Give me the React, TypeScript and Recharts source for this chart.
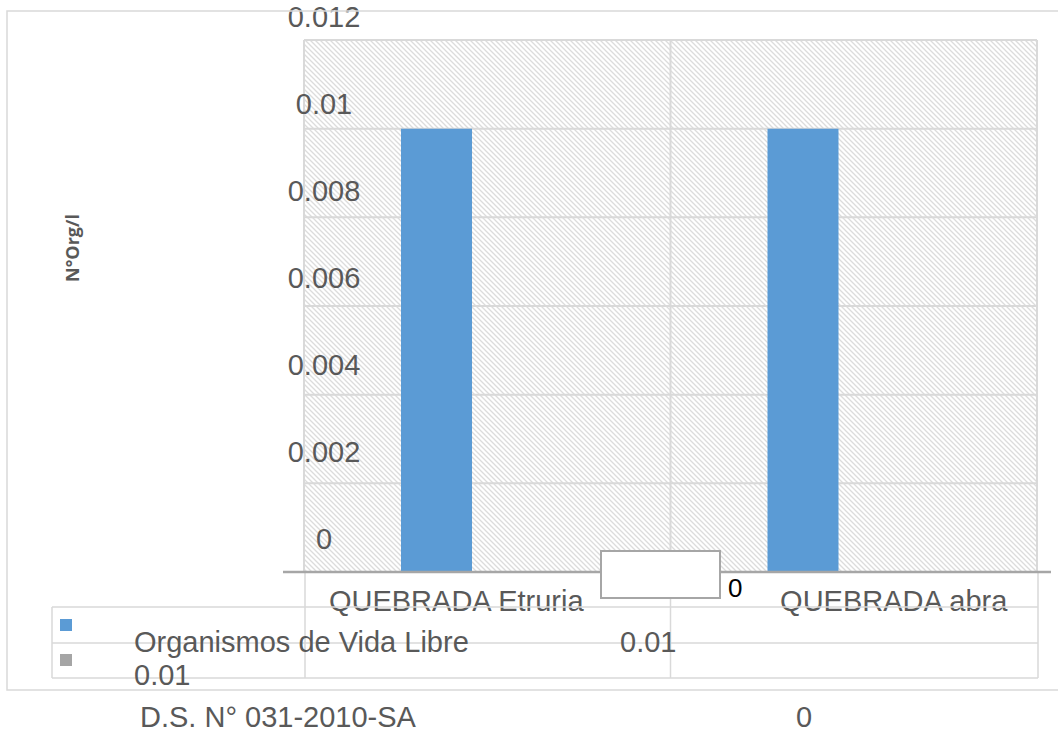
import React from 'react';
import { BarChart, Bar, XAxis, YAxis, CartesianGrid } from 'recharts';

const sites = ['QUEBRADA Etruria', 'QUEBRADA abra'];
const vidaLibre = [0.01, 0.01];
const dsLimit = [0, 0];
const yTicks = [0, 0.002, 0.004, 0.006, 0.008, 0.01, 0.012];

const data = sites.map((site, i) => ({ site, vidaLibre: vidaLibre[i], ds: dsLimit[i] }));

const W = 1058;
const H = 733;
const PLOT = { left: 304, right: 1037, top: 40, bottom: 572 };
const AXIS_W = 20;
const AXIS_H = 20;
const FONT = '"Liberation Sans", Arial, sans-serif';
const FS = 29;
const GREY_TEXT = '#595959';
const LINE = '#d9d9d9';

// labels in the source sit off-center of their categories
const CAT_DX = [-31, 40];

const YTick = (props: any) => {
  const { y, payload } = props;
  // the source's value labels drift upward a little more toward the bottom
  const drift = (10 * (y - PLOT.top)) / (PLOT.bottom - PLOT.top);
  return (
    <text x={PLOT.left + 20} y={y - 13 - drift} textAnchor="middle" fill={GREY_TEXT} fontSize={FS} fontFamily={FONT}>
      {payload.value}
    </text>
  );
};

const XTick = (props: any) => {
  const { x, payload, index } = props;
  return (
    <text x={x + CAT_DX[index]} y={PLOT.bottom + 39} textAnchor="middle" fill={GREY_TEXT} fontSize={FS} fontFamily={FONT}>
      {payload.value}
    </text>
  );
};

const Overlay = () => {
  const mid = (PLOT.left + PLOT.right) / 2;
  const rows = [607, 643, 678];
  return (
    <svg width={W} height={H} style={{ position: 'absolute', left: 0, top: 0, pointerEvents: 'none' }}>
      <defs>
        <pattern id="hatch" patternUnits="userSpaceOnUse" width={5} height={5}>
          <rect width={5} height={5} fill="#ffffff" />
          <path d="M-1,-1 L6,6 M-1,4 L1,6 M4,-1 L6,1" stroke="#dcdcdc" strokeWidth={1.3} />
        </pattern>
      </defs>
      {/* chart frame */}
      <rect x={7} y={11} width={W + 20} height={679} fill="none" stroke={LINE} strokeWidth={1.5} />
      {/* data table grid */}
      {rows.map((r) => (
        <line key={r} x1={52} x2={PLOT.right + 1} y1={r} y2={r} stroke={LINE} strokeWidth={1.5} />
      ))}
      <line x1={52} x2={52} y1={607} y2={678} stroke={LINE} strokeWidth={1.5} />
      {[PLOT.left + 1, mid, PLOT.right + 1].map((vx) => (
        <line key={vx} x1={vx} x2={vx} y1={PLOT.bottom} y2={678} stroke={LINE} strokeWidth={1.5} />
      ))}
      {/* category axis line */}
      <line x1={283} x2={1051} y1={PLOT.bottom} y2={PLOT.bottom} stroke="#a6a6a6" strokeWidth={2.5} />
      {/* stray label box */}
      <rect x={601} y={551} width={119} height={47} fill="#ffffff" stroke="#a6a6a6" strokeWidth={2} />
      <text x={728} y={597} fill="#000000" fontSize={26} fontFamily={FONT}>0</text>
      {/* legend keys */}
      <rect x={60} y={619} width={12} height={12} fill="#5b9bd5" />
      <rect x={60} y={654} width={12} height={12} fill="#a5a5a5" />
      <g fill={GREY_TEXT} fontSize={FS} fontFamily={FONT}>
        <text x={134} y={652}>Organismos de Vida Libre</text>
        <text x={134} y={685}>{vidaLibre[0]}</text>
        <text x={620} y={652}>{vidaLibre[1]}</text>
        <text x={140} y={727}>D.S. N° 031-2010-SA</text>
        <text x={804} y={727} textAnchor="middle">{dsLimit[0]}</text>
      </g>
      <text
        transform="translate(79,248) rotate(-90)"
        textAnchor="middle"
        fill={GREY_TEXT}
        fontSize={18}
        fontWeight="bold"
        fontFamily={'"Open Sans", sans-serif'}
      >
        N°Org/l
      </text>
    </svg>
  );
};

export default function App() {
  return (
    <div style={{ position: 'absolute', left: 0, top: 0, width: W, height: H, background: '#fff' }}>
      <BarChart
        width={W}
        height={H}
        data={data}
        barGap={30}
        margin={{
          top: PLOT.top,
          right: W - PLOT.right,
          left: PLOT.left - AXIS_W,
          bottom: H - PLOT.bottom - AXIS_H,
        }}
      >
        <CartesianGrid
          fill="url(#hatch)"
          fillOpacity={1}
          stroke={LINE}
          strokeWidth={2}
          verticalCoordinatesGenerator={({ offset }: any) => [
            offset.left,
            offset.left + offset.width / 2,
            offset.left + offset.width,
          ]}
        />
        <XAxis dataKey="site" height={AXIS_H} axisLine={false} tickLine={false} tick={<XTick />} interval={0} />
        <YAxis
          width={AXIS_W}
          domain={[0, 0.012]}
          ticks={yTicks}
          axisLine={false}
          tickLine={false}
          tick={<YTick />}
          interval={0}
        />
        <Bar dataKey="vidaLibre" fill="#5b9bd5" barSize={71} isAnimationActive={false} />
        <Bar dataKey="ds" fill="#a5a5a5" barSize={71} isAnimationActive={false} />
      </BarChart>
      <Overlay />
    </div>
  );
}
